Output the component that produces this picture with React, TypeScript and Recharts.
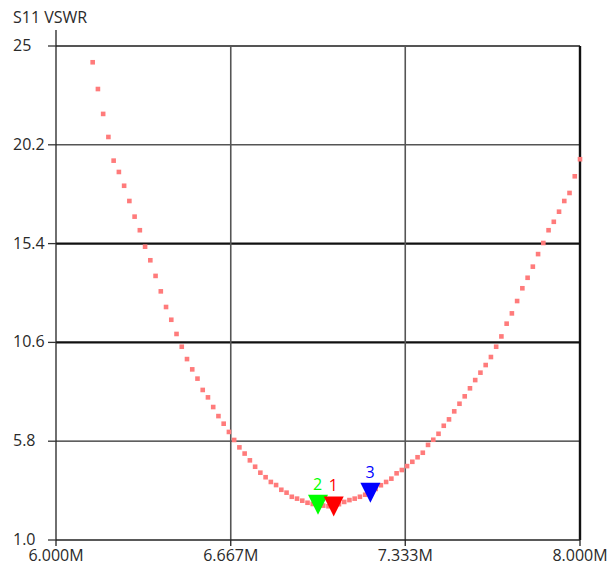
import React from 'react'
import { ScatterChart, Scatter, XAxis, YAxis, ReferenceLine } from 'recharts'

// sweep points (MHz) and measured S11 VSWR
const freqMHz = [
  6.14, 6.16, 6.18, 6.2, 6.22, 6.24, 6.26, 6.28, 6.3, 6.32,
  6.34, 6.36, 6.38, 6.4, 6.42, 6.44, 6.46, 6.48, 6.5, 6.52,
  6.54, 6.56, 6.58, 6.6, 6.62, 6.64, 6.66, 6.68, 6.7, 6.72,
  6.74, 6.76, 6.78, 6.8, 6.82, 6.84, 6.86, 6.88, 6.9, 6.92,
  6.94, 6.96, 6.98, 7.0, 7.02, 7.04, 7.06, 7.08, 7.1, 7.12,
  7.14, 7.16, 7.18, 7.2, 7.22, 7.24, 7.26, 7.28, 7.3, 7.32,
  7.34, 7.36, 7.38, 7.4, 7.42, 7.44, 7.46, 7.48, 7.5, 7.52,
  7.54, 7.56, 7.58, 7.6, 7.62, 7.64, 7.66, 7.68, 7.7, 7.72,
  7.74, 7.76, 7.78, 7.8, 7.82, 7.84, 7.86, 7.88, 7.9, 7.92,
  7.94, 7.96, 7.98, 8.0,
]

const vswr = [
  24.21, 22.91, 21.7, 20.58, 19.43, 18.88, 18.21, 17.47, 16.71, 16.05,
  15.25, 14.59, 13.83, 13.08, 12.32, 11.7, 11.01, 10.39, 9.79, 9.29,
  8.84, 8.29, 7.93, 7.46, 7.02, 6.65, 6.25, 5.86, 5.5, 5.2,
  4.87, 4.56, 4.27, 4.05, 3.82, 3.67, 3.44, 3.3, 3.1, 3.01,
  2.91, 2.81, 2.75, 2.71, 2.67, 2.64, 2.63, 2.74, 2.85, 2.94,
  3.01, 3.1, 3.2, 3.3, 3.48, 3.66, 3.82, 3.98, 4.24, 4.4,
  4.59, 4.8, 5.02, 5.24, 5.62, 5.87, 6.16, 6.55, 6.86, 7.25,
  7.62, 7.98, 8.37, 8.77, 9.13, 9.5, 9.89, 10.39, 10.89, 11.51,
  12.01, 12.61, 13.23, 13.74, 14.28, 14.89, 15.43, 16.05, 16.46, 16.95,
  17.47, 17.86, 18.67, 19.5,
]

const xTicks = [6.0, 6.667, 7.333, 8.0]
const xTickLabels = ['6.000M', '6.667M', '7.333M', '8.000M']
const yTicks = [1.0, 5.8, 10.6, 15.4, 20.2, 25]
const yTickLabels = ['1.0', '5.8', '10.6', '15.4', '20.2', '25']

// marker number, frequency (MHz), colour
const markerNums = [2, 1, 3]
const markerFreqs = [7.0, 7.06, 7.2]
const markerColors = ['#00ff00', '#ff0000', '#0000ff']

const sweep = freqMHz.map((f, i) => ({ freq: f, vswr: vswr[i] }))

const FONT = '"Open Sans", "Noto Sans", sans-serif'
const TEXT = '#2a2a2a'

// heavier rendering for the middle grid rows
const gridStyle: Record<string, { stroke: string; w: number }> = {
  '5.8': { stroke: '#2a2a2a', w: 1.3 },
  '10.6': { stroke: '#111', w: 2.4 },
  '15.4': { stroke: '#111', w: 2.4 },
  '20.2': { stroke: '#555', w: 1.6 },
  '25': { stroke: '#555', w: 1.8 },
}

const SweepDot = (p: any) => (
  <rect x={p.cx - 2.3} y={p.cy - 2.3} width={4.6} height={4.6} fill="#ff7b7b" />
)

const markerShape = (num: number, color: string) => (p: any) => {
  const s = 10
  const { cx, cy } = p
  return (
    <g>
      <path d={`M${cx - s},${cy - s} L${cx + s},${cy - s} L${cx},${cy + s} Z`} fill={color} />
      <text x={cx - 5} y={cy - s - 5} fontSize={16} fontFamily={FONT} fill={color}>
        {num}
      </text>
    </g>
  )
}

const YTick = (p: any) => {
  const i = yTicks.indexOf(p.payload.value)
  return (
    <text x={13} y={p.y + 5} fontSize={16} fontFamily={FONT} fill={TEXT} textAnchor="start">
      {yTickLabels[i]}
    </text>
  )
}

export default function App() {
  return (
    <div style={{ position: 'absolute', left: 0, top: 0, width: 614, height: 568, background: '#fff' }}>
      <div
        style={{
          position: 'absolute', left: 13, top: 9, fontFamily: FONT, fontSize: 16,
          lineHeight: '16px', color: TEXT, whiteSpace: 'nowrap',
        }}
      >
        S11 VSWR
      </div>
      <ScatterChart width={614} height={568} margin={{ top: 30, right: 34, bottom: 0, left: 0 }}>
        <XAxis
          type="number"
          dataKey="freq"
          domain={[6, 8]}
          ticks={xTicks}
          tickFormatter={(v: number) => xTickLabels[xTicks.indexOf(v)]}
          height={28}
          tickSize={6}
          tickMargin={4}
          axisLine={{ stroke: '#222', strokeWidth: 1.3 }}
          tickLine={{ stroke: '#222', strokeWidth: 1.3 }}
          tick={{ fontSize: 16, fontFamily: FONT, fill: TEXT }}
          interval={0}
        />
        <YAxis
          type="number"
          dataKey="vswr"
          domain={[1, 25]}
          ticks={yTicks}
          width={56}
          padding={{ top: 16, bottom: 0 }}
          tickSize={8}
          axisLine={{ stroke: '#222', strokeWidth: 1.3 }}
          tickLine={{ stroke: '#333', strokeWidth: 1.3 }}
          tick={<YTick />}
          interval={0}
        />
        {yTicks.slice(1).map((v) => (
          <ReferenceLine
            key={v}
            y={v}
            stroke={gridStyle[String(v)].stroke}
            strokeWidth={gridStyle[String(v)].w}
          />
        ))}
        {xTicks.slice(1).map((v, i) => (
          <ReferenceLine
            key={v}
            segment={[{ x: v, y: 1 }, { x: v, y: 25 }]}
            stroke={i === 2 ? '#111' : '#555'}
            strokeWidth={i === 2 ? 2.4 : 1.6}
          />
        ))}
        <Scatter data={sweep} shape={SweepDot} isAnimationActive={false} />
        {markerNums.map((n, k) => {
          const idx = freqMHz.indexOf(markerFreqs[k])
          return (
            <Scatter
              key={n}
              data={[{ freq: markerFreqs[k], vswr: vswr[idx] }]}
              shape={markerShape(n, markerColors[k])}
              isAnimationActive={false}
            />
          )
        })}
      </ScatterChart>
    </div>
  )
}
